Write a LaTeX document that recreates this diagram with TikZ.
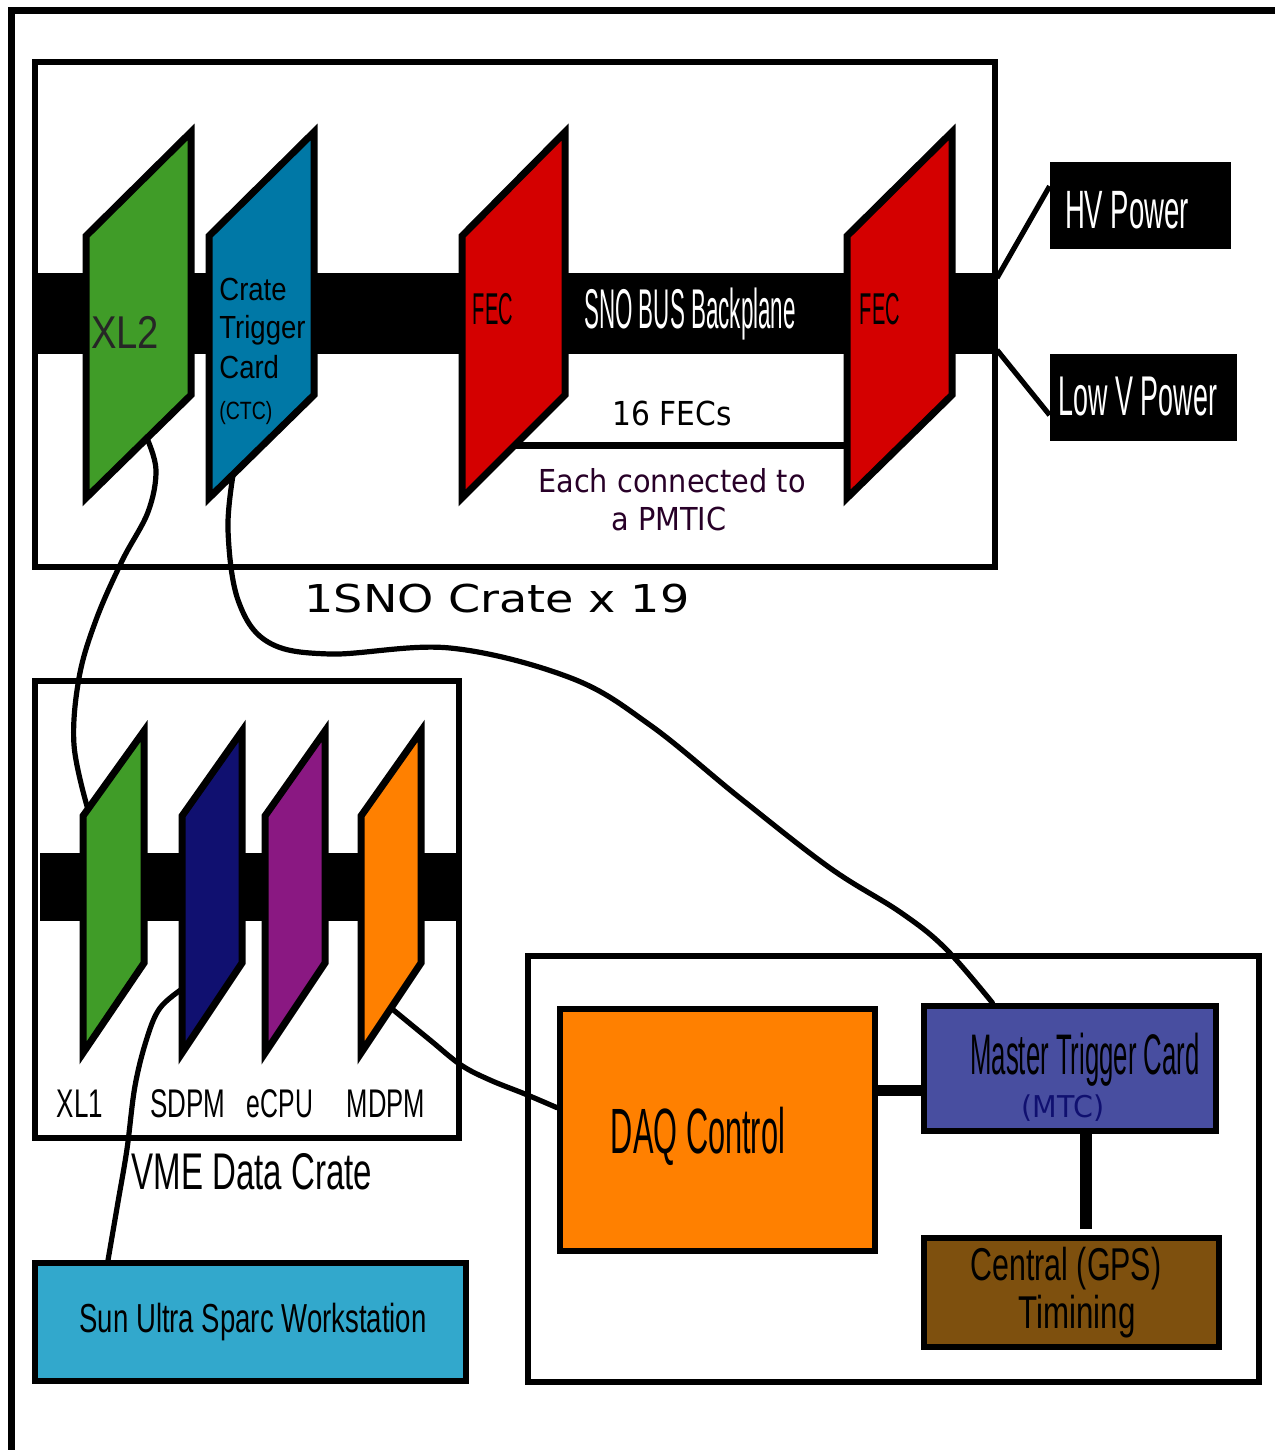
\documentclass[tikz,border=0pt]{standalone}
\usepackage{fontspec}
\usepackage{graphicx}
\setmainfont{Liberation Sans}
\newfontfamily\dvs{DejaVu Sans}
\usetikzlibrary{calc}
\definecolor{xlgreen}{RGB}{64,156,40}
\definecolor{ctcblue}{RGB}{0,120,166}
\definecolor{fecred}{RGB}{212,0,0}
\definecolor{sdpmnavy}{RGB}{16,16,112}
\definecolor{ecpupurple}{RGB}{138,24,130}
\definecolor{mdpmorange}{RGB}{255,128,0}
\definecolor{sunblue}{RGB}{50,168,204}
\definecolor{mtcblue}{RGB}{72,78,160}
\definecolor{gpsbrown}{RGB}{126,80,14}
\definecolor{tdark}{RGB}{40,0,40}
\newcommand\sq[2]{\scalebox{#1}[1]{#2}}
\newcommand\fs[1]{\fontsize{#1}{#1}\selectfont}
\newcommand\card[8]{%
  \coordinate (#1-tl) at (#2,#5);
  \coordinate (#1-tr) at (#3,#4);
  \coordinate (#1-bl) at (#2,#6);
  \coordinate (#1-br) at (#3,#7);
  \filldraw[cardline, fill=#8] (#1-tl) -- (#1-tr) -- (#1-br) -- (#1-bl) -- cycle;
}
\tikzset{
  box/.style={draw, line width=3pt, inner sep=0pt, rectangle},
  blackbox/.style={fill=black, draw=none, inner sep=0pt, rectangle},
  cardline/.style={draw, line width=3.5pt, line join=miter},
  cable/.style={line width=2.6pt, line cap=round, line join=round},
  txt/.style={inner sep=0pt, anchor=base},
}
\begin{document}
\begin{tikzpicture}[x=0.5pt, y=-0.5pt]
\useasboundingbox (0,0) rectangle (1274,1450);
\fill[white] (0,0) rectangle (1274,1450);
% outer frame
\coordinate (fbl) at (11,1455);
\coordinate (ftl) at (11,11);
\coordinate (ftr) at (1280,11);
\draw[line width=3.5pt] (fbl) -- (ftl) -- (ftr);

% SNO crate
\node[box, minimum width=480pt, minimum height=252.5pt] (sno) at (515,314.5) {};
\fill (35,273) rectangle (998,354);
\coordinate (fecl) at (462,445);
\coordinate (fecr) at (847,445);
\draw[line width=3.5pt] (fecl) -- (fecr);
\card{xltwo}{86}{191}{132}{236}{498}{395}{xlgreen}
\card{ctc}{209}{314}{132}{236}{498}{395}{ctcblue}
\card{fecA}{462}{565}{132}{236}{498}{395}{fecred}
\card{fecB}{847}{952}{132}{236}{498}{395}{fecred}

% power boxes
\node[blackbox, minimum width=90.5pt, minimum height=43.5pt] (hv) at (1140.5,205.5) {};
\node[blackbox, minimum width=93.5pt, minimum height=43.5pt] (lv) at (1143.5,397.5) {};
\coordinate (bpA) at (997,278);
\coordinate (bpB) at (997,350);
\draw[line width=2.6pt] (bpA) -- ($(hv.north west)!0.28!(hv.south west)$);
\draw[line width=2.6pt] (bpB) -- ($(lv.north west)!0.70!(lv.south west)$);

% VME crate
\node[box, minimum width=212pt, minimum height=228.5pt] (vme) at (247,909.5) {};
\fill (40,853) rectangle (457,921);
\card{xlone}{83}{144}{731}{816}{1053}{963}{xlgreen}
\card{sdpm}{182}{242}{731}{816}{1053}{963}{sdpmnavy}
\card{ecpu}{265}{325}{731}{816}{1053}{963}{ecpupurple}
\card{mdpm}{361}{421}{731}{816}{1053}{963}{mdpmorange}

% Sun workstation
\node[box, fill=sunblue, minimum width=215.5pt, minimum height=59pt] (sun) at (250.5,1322) {};

% right group
\node[box, minimum width=365.5pt, minimum height=213pt] (ctrl) at (893.5,1169) {};
\node[box, fill=mdpmorange, minimum width=157.5pt, minimum height=121pt] (daq) at (717.5,1130) {};
\node[box, fill=mtcblue, minimum width=146pt, minimum height=62.5pt] (mtc) at (1070,1068.5) {};
\node[box, fill=gpsbrown, minimum width=147.5pt, minimum height=54.5pt] (gps) at (1071.5,1292.5) {};
\coordinate (dm) at ($(daq.north east)!0.34!(daq.south east)$);
\draw[line width=5.5pt] (dm) -- (dm -| mtc.west);
\coordinate (mg) at ($(mtc.south west)!0.555!(mtc.south east)$);
\draw[line width=6pt, shorten >=3pt] (mg) -- (mg |- gps.north);

% cables
\coordinate (c1s) at ($(xltwo-bl)!0.58!(xltwo-br)$);
\coordinate (c1e) at ($(xlone-tl)!0.08!(xlone-tr)$);
\draw[cable] plot[smooth, tension=0.6] coordinates {(c1s) (156,470) (148,512) (122,561) (96,620) (79,678) (74,745) (c1e)};
\coordinate (c2s) at ($(ctc-bl)!0.23!(ctc-br)$);
\coordinate (c2e) at ($(mtc.north west)!0.24!(mtc.north east)$);
\draw[cable] plot[smooth, tension=0.6] coordinates {(c2s) (228,530) (238,600) (268,642) (330,654) (450,648) (571,678) (650,725) (740,798) (830,868) (900,912) (945,948) (c2e)};
\coordinate (c3s) at ($(sdpm-tl)!0.73!(sdpm-bl)$);
\coordinate (c3e) at ($(sun.north west)!0.174!(sun.north east)$);
\draw[cable] plot[smooth, tension=0.6] coordinates {(c3s) (160,1008) (147,1038) (135,1086) (127,1149) (118,1202) (c3e)};
\coordinate (c4s) at ($(mdpm-bl)!0.5!(mdpm-br)$);
\coordinate (c4e) at ($(daq.north west)!0.41!(daq.south west)$);
\draw[cable] plot[smooth, tension=0.6] coordinates {(c4s) (430,1040) (461,1065) (490,1080) (525,1094) (c4e)};

% texts
\node[txt, font=\fs{23pt}, text=black!85] (tXL2) at (125,348) {\sq{0.83}{XL2}};
\node[txt, anchor=base west, font=\fs{16pt}] (tCrate) at (219,300) {\sq{0.86}{Crate}};
\node[txt, anchor=base west, font=\fs{16pt}] (tTrig) at (219,338) {\sq{0.86}{Trigger}};
\node[txt, anchor=base west, font=\fs{16pt}] (tCard) at (219,378) {\sq{0.86}{Card}};
\node[txt, anchor=base west, font=\fs{12.5pt}] (tCTC) at (219,419) {\sq{0.78}{(CTC)}};
\node[txt, font=\fs{22.3pt}] (tFEC1) at (493,324) {\sq{0.45}{FEC}};
\node[txt, font=\fs{22.3pt}] (tFEC2) at (880,324) {\sq{0.45}{FEC}};
\node[txt, font=\fs{28pt}, text=white] (tBus) at (690,328) {\sq{0.40}{SNO BUS Backplane}};
\node[txt, font=\dvs\fs{16.5pt}] (t16) at (672,425) {\sq{0.9}{16 FECs}};
\node[txt, font=\dvs\fs{15.8pt}, text=tdark] (tEach) at (672,492) {\sq{0.91}{Each connected to}};
\node[txt, font=\dvs\fs{15.8pt}, text=tdark] (tPMTIC) at (669,530) {\sq{0.91}{a PMTIC}};
\node[txt, font=\dvs\fs{19.2pt}] (tSNO) at (497,612) {\sq{1.2}{1SNO Crate x 19}};
\node[txt, font=\fs{27pt}, text=white] (tHV) at (1127,228) {\sq{0.51}{HV Power}};
\node[txt, font=\fs{28pt}, text=white] (tLV) at (1138,415) {\sq{0.48}{Low V Power}};
\node[txt, font=\fs{20pt}] (tXL1) at (80,1117) {\sq{0.65}{XL1}};
\node[txt, font=\fs{20pt}] (tSDPM) at (188,1117) {\sq{0.65}{SDPM}};
\node[txt, font=\fs{20pt}] (tECPU) at (280,1117) {\sq{0.62}{eCPU}};
\node[txt, font=\fs{20pt}] (tMDPM) at (386,1117) {\sq{0.64}{MDPM}};
\node[txt, font=\fs{25.8pt}] (tVME) at (252,1189) {\sq{0.64}{VME Data Crate}};
\node[txt, font=\fs{20.25pt}] (tSun) at (253,1332) {\sq{0.68}{Sun Ultra Sparc Workstation}};
\node[txt, font=\fs{32pt}] (tDAQ) at (698,1153) {\sq{0.48}{DAQ Control}};
\node[txt, font=\fs{28.6pt}] (tMTC) at (1085,1074) {\sq{0.45}{Master Trigger Card}};
\node[txt, font=\dvs\fs{15pt}, text=sdpmnavy] (tMTCa) at (1063,1117) {\sq{0.95}{(MTC)}};
\node[txt, font=\fs{23pt}] (tGPS) at (1066,1280) {\sq{0.66}{Central (GPS)}};
\node[txt, font=\fs{23pt}] (tTim) at (1077,1328) {\sq{0.68}{Timining}};
\end{tikzpicture}
\end{document}
